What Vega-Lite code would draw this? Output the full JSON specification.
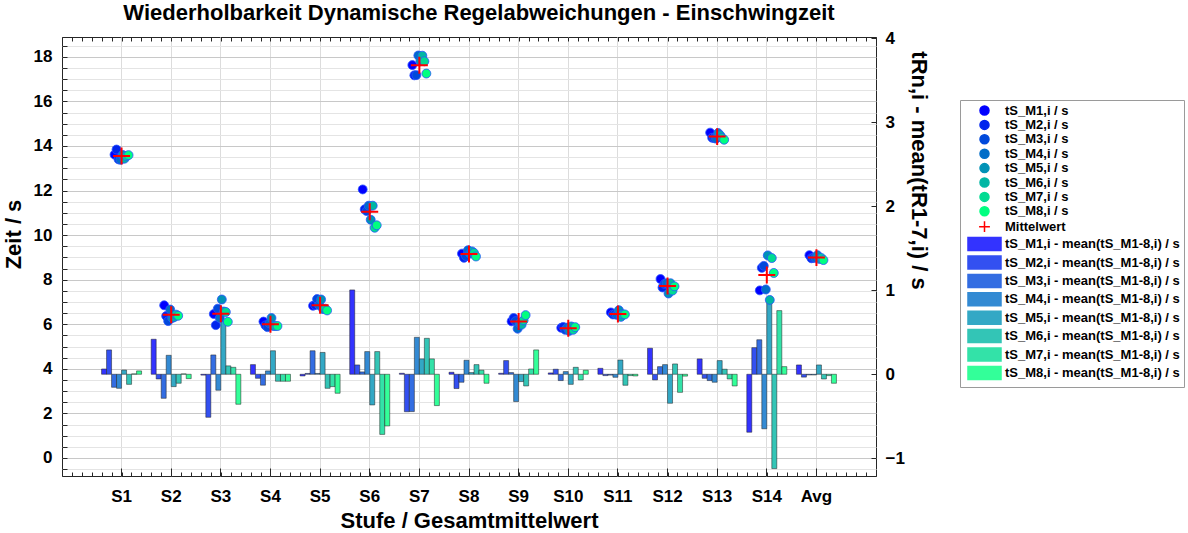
{
"$schema": "https://vega.github.io/schema/vega-lite/v6.json",
"width": 814, "height": 439,
"autosize": {"type": "none"},
"padding": {"left": 62, "top": 37, "right": 312, "bottom": 57},
"background": "white",
"title": {"text": "Wiederholbarkeit Dynamische Regelabweichungen - Einschwingzeit", "fontSize": 22, "fontWeight": "bold", "font": "Liberation Sans", "color": "black", "anchor": "middle", "offset": 4, "dx": 10},
"config": {"font": "Liberation Sans", "view": {"stroke": "#262626", "strokeWidth": 1}},
"datasets": {
"pts": [
{"s":"S1","n":"tS_M1,i / s","v":13.61},{"s":"S1","n":"tS_M2,i / s","v":13.84},{"s":"S1","n":"tS_M3,i / s","v":13.40},{"s":"S1","n":"tS_M4,i / s","v":13.38},{"s":"S1","n":"tS_M5,i / s","v":13.60},{"s":"S1","n":"tS_M6,i / s","v":13.43},{"s":"S1","n":"tS_M7,i / s","v":13.55},{"s":"S1","n":"tS_M8,i / s","v":13.59},
{"s":"S2","n":"tS_M1,i / s","v":6.85},{"s":"S2","n":"tS_M2,i / s","v":6.37},{"s":"S2","n":"tS_M3,i / s","v":6.14},{"s":"S2","n":"tS_M4,i / s","v":6.66},{"s":"S2","n":"tS_M5,i / s","v":6.28},{"s":"S2","n":"tS_M6,i / s","v":6.32},{"s":"S2","n":"tS_M7,i / s","v":6.43},{"s":"S2","n":"tS_M8,i / s","v":6.38},
{"s":"S3","n":"tS_M1,i / s","v":6.46},{"s":"S3","n":"tS_M2,i / s","v":5.96},{"s":"S3","n":"tS_M3,i / s","v":6.70},{"s":"S3","n":"tS_M4,i / s","v":6.28},{"s":"S3","n":"tS_M5,i / s","v":7.11},{"s":"S3","n":"tS_M6,i / s","v":6.57},{"s":"S3","n":"tS_M7,i / s","v":6.55},{"s":"S3","n":"tS_M8,i / s","v":6.11},
{"s":"S4","n":"tS_M1,i / s","v":6.12},{"s":"S4","n":"tS_M2,i / s","v":5.95},{"s":"S4","n":"tS_M3,i / s","v":5.87},{"s":"S4","n":"tS_M4,i / s","v":6.04},{"s":"S4","n":"tS_M5,i / s","v":6.28},{"s":"S4","n":"tS_M6,i / s","v":5.92},{"s":"S4","n":"tS_M7,i / s","v":5.92},{"s":"S4","n":"tS_M8,i / s","v":5.92},
{"s":"S5","n":"tS_M1,i / s","v":6.83},{"s":"S5","n":"tS_M2,i / s","v":6.86},{"s":"S5","n":"tS_M3,i / s","v":7.13},{"s":"S5","n":"tS_M4,i / s","v":6.86},{"s":"S5","n":"tS_M5,i / s","v":7.11},{"s":"S5","n":"tS_M6,i / s","v":6.68},{"s":"S5","n":"tS_M7,i / s","v":6.70},{"s":"S5","n":"tS_M8,i / s","v":6.62},
{"s":"S6","n":"tS_M1,i / s","v":12.05},{"s":"S6","n":"tS_M2,i / s","v":11.16},{"s":"S6","n":"tS_M3,i / s","v":11.08},{"s":"S6","n":"tS_M4,i / s","v":11.32},{"s":"S6","n":"tS_M5,i / s","v":10.69},{"s":"S6","n":"tS_M6,i / s","v":11.32},{"s":"S6","n":"tS_M7,i / s","v":10.33},{"s":"S6","n":"tS_M8,i / s","v":10.44},
{"s":"S7","n":"tS_M1,i / s","v":17.63},{"s":"S7","n":"tS_M2,i / s","v":17.17},{"s":"S7","n":"tS_M3,i / s","v":17.18},{"s":"S7","n":"tS_M4,i / s","v":18.06},{"s":"S7","n":"tS_M5,i / s","v":17.80},{"s":"S7","n":"tS_M6,i / s","v":18.05},{"s":"S7","n":"tS_M7,i / s","v":17.80},{"s":"S7","n":"tS_M8,i / s","v":17.25},
{"s":"S8","n":"tS_M1,i / s","v":9.17},{"s":"S8","n":"tS_M2,i / s","v":8.98},{"s":"S8","n":"tS_M3,i / s","v":9.06},{"s":"S8","n":"tS_M4,i / s","v":9.32},{"s":"S8","n":"tS_M5,i / s","v":9.17},{"s":"S8","n":"tS_M6,i / s","v":9.27},{"s":"S8","n":"tS_M7,i / s","v":9.20},{"s":"S8","n":"tS_M8,i / s","v":9.04},
{"s":"S9","n":"tS_M1,i / s","v":6.13},{"s":"S9","n":"tS_M2,i / s","v":6.28},{"s":"S9","n":"tS_M3,i / s","v":6.14},{"s":"S9","n":"tS_M4,i / s","v":5.80},{"s":"S9","n":"tS_M5,i / s","v":6.03},{"s":"S9","n":"tS_M6,i / s","v":5.98},{"s":"S9","n":"tS_M7,i / s","v":6.18},{"s":"S9","n":"tS_M8,i / s","v":6.41},
{"s":"S10","n":"tS_M1,i / s","v":5.84},{"s":"S10","n":"tS_M2,i / s","v":5.88},{"s":"S10","n":"tS_M3,i / s","v":5.75},{"s":"S10","n":"tS_M4,i / s","v":5.85},{"s":"S10","n":"tS_M5,i / s","v":5.70},{"s":"S10","n":"tS_M6,i / s","v":5.90},{"s":"S10","n":"tS_M7,i / s","v":5.75},{"s":"S10","n":"tS_M8,i / s","v":5.87},
{"s":"S11","n":"tS_M1,i / s","v":6.53},{"s":"S11","n":"tS_M2,i / s","v":6.44},{"s":"S11","n":"tS_M3,i / s","v":6.45},{"s":"S11","n":"tS_M4,i / s","v":6.42},{"s":"S11","n":"tS_M5,i / s","v":6.63},{"s":"S11","n":"tS_M6,i / s","v":6.33},{"s":"S11","n":"tS_M7,i / s","v":6.44},{"s":"S11","n":"tS_M8,i / s","v":6.44},
{"s":"S12","n":"tS_M1,i / s","v":8.03},{"s":"S12","n":"tS_M2,i / s","v":7.65},{"s":"S12","n":"tS_M3,i / s","v":7.81},{"s":"S12","n":"tS_M4,i / s","v":7.84},{"s":"S12","n":"tS_M5,i / s","v":7.38},{"s":"S12","n":"tS_M6,i / s","v":7.84},{"s":"S12","n":"tS_M7,i / s","v":7.51},{"s":"S12","n":"tS_M8,i / s","v":7.70},
{"s":"S13","n":"tS_M1,i / s","v":14.60},{"s":"S13","n":"tS_M2,i / s","v":14.37},{"s":"S13","n":"tS_M3,i / s","v":14.35},{"s":"S13","n":"tS_M4,i / s","v":14.33},{"s":"S13","n":"tS_M5,i / s","v":14.58},{"s":"S13","n":"tS_M6,i / s","v":14.48},{"s":"S13","n":"tS_M7,i / s","v":14.36},{"s":"S13","n":"tS_M8,i / s","v":14.28},
{"s":"S14","n":"tS_M1,i / s","v":7.52},{"s":"S14","n":"tS_M2,i / s","v":8.53},{"s":"S14","n":"tS_M3,i / s","v":8.62},{"s":"S14","n":"tS_M4,i / s","v":7.56},{"s":"S14","n":"tS_M5,i / s","v":9.09},{"s":"S14","n":"tS_M6,i / s","v":7.09},{"s":"S14","n":"tS_M7,i / s","v":8.97},{"s":"S14","n":"tS_M8,i / s","v":8.30},
{"s":"Avg","n":"tS_M1,i / s","v":9.10},{"s":"Avg","n":"tS_M2,i / s","v":8.96},{"s":"Avg","n":"tS_M3,i / s","v":8.98},{"s":"Avg","n":"tS_M4,i / s","v":8.98},{"s":"Avg","n":"tS_M5,i / s","v":9.10},{"s":"Avg","n":"tS_M6,i / s","v":8.93},{"s":"Avg","n":"tS_M7,i / s","v":8.97},{"s":"Avg","n":"tS_M8,i / s","v":8.88}
],
"mean": [
{"s":"S1","n":"Mittelwert","v":13.55},{"s":"S2","n":"Mittelwert","v":6.43},{"s":"S3","n":"Mittelwert","v":6.47},{"s":"S4","n":"Mittelwert","v":6.0},{"s":"S5","n":"Mittelwert","v":6.85},{"s":"S6","n":"Mittelwert","v":11.05},{"s":"S7","n":"Mittelwert","v":17.62},{"s":"S8","n":"Mittelwert","v":9.15},{"s":"S9","n":"Mittelwert","v":6.12},{"s":"S10","n":"Mittelwert","v":5.82},{"s":"S11","n":"Mittelwert","v":6.46},{"s":"S12","n":"Mittelwert","v":7.72},{"s":"S13","n":"Mittelwert","v":14.42},{"s":"S14","n":"Mittelwert","v":8.21},{"s":"Avg","n":"Mittelwert","v":8.99}
],
"bars": [
{"s":"S1","n":"tS_M1,i - mean(tS_M1-8,i) / s","v":0.063},{"s":"S1","n":"tS_M2,i - mean(tS_M1-8,i) / s","v":0.29},{"s":"S1","n":"tS_M3,i - mean(tS_M1-8,i) / s","v":-0.155},{"s":"S1","n":"tS_M4,i - mean(tS_M1-8,i) / s","v":-0.167},{"s":"S1","n":"tS_M5,i - mean(tS_M1-8,i) / s","v":0.05},{"s":"S1","n":"tS_M6,i - mean(tS_M1-8,i) / s","v":-0.12},{"s":"S1","n":"tS_M7,i - mean(tS_M1-8,i) / s","v":0.005},{"s":"S1","n":"tS_M8,i - mean(tS_M1-8,i) / s","v":0.04},
{"s":"S2","n":"tS_M1,i - mean(tS_M1-8,i) / s","v":0.417},{"s":"S2","n":"tS_M2,i - mean(tS_M1-8,i) / s","v":-0.056},{"s":"S2","n":"tS_M3,i - mean(tS_M1-8,i) / s","v":-0.286},{"s":"S2","n":"tS_M4,i - mean(tS_M1-8,i) / s","v":0.226},{"s":"S2","n":"tS_M5,i - mean(tS_M1-8,i) / s","v":-0.147},{"s":"S2","n":"tS_M6,i - mean(tS_M1-8,i) / s","v":-0.107},{"s":"S2","n":"tS_M7,i - mean(tS_M1-8,i) / s","v":0.005},{"s":"S2","n":"tS_M8,i - mean(tS_M1-8,i) / s","v":-0.052},
{"s":"S3","n":"tS_M1,i - mean(tS_M1-8,i) / s","v":-0.01},{"s":"S3","n":"tS_M2,i - mean(tS_M1-8,i) / s","v":-0.512},{"s":"S3","n":"tS_M3,i - mean(tS_M1-8,i) / s","v":0.23},{"s":"S3","n":"tS_M4,i - mean(tS_M1-8,i) / s","v":-0.19},{"s":"S3","n":"tS_M5,i - mean(tS_M1-8,i) / s","v":0.635},{"s":"S3","n":"tS_M6,i - mean(tS_M1-8,i) / s","v":0.1},{"s":"S3","n":"tS_M7,i - mean(tS_M1-8,i) / s","v":0.083},{"s":"S3","n":"tS_M8,i - mean(tS_M1-8,i) / s","v":-0.357},
{"s":"S4","n":"tS_M1,i - mean(tS_M1-8,i) / s","v":0.115},{"s":"S4","n":"tS_M2,i - mean(tS_M1-8,i) / s","v":-0.048},{"s":"S4","n":"tS_M3,i - mean(tS_M1-8,i) / s","v":-0.13},{"s":"S4","n":"tS_M4,i - mean(tS_M1-8,i) / s","v":0.04},{"s":"S4","n":"tS_M5,i - mean(tS_M1-8,i) / s","v":0.28},{"s":"S4","n":"tS_M6,i - mean(tS_M1-8,i) / s","v":-0.083},{"s":"S4","n":"tS_M7,i - mean(tS_M1-8,i) / s","v":-0.083},{"s":"S4","n":"tS_M8,i - mean(tS_M1-8,i) / s","v":-0.083},
{"s":"S5","n":"tS_M1,i - mean(tS_M1-8,i) / s","v":-0.02},{"s":"S5","n":"tS_M2,i - mean(tS_M1-8,i) / s","v":0.01},{"s":"S5","n":"tS_M3,i - mean(tS_M1-8,i) / s","v":0.28},{"s":"S5","n":"tS_M4,i - mean(tS_M1-8,i) / s","v":0.01},{"s":"S5","n":"tS_M5,i - mean(tS_M1-8,i) / s","v":0.26},{"s":"S5","n":"tS_M6,i - mean(tS_M1-8,i) / s","v":-0.167},{"s":"S5","n":"tS_M7,i - mean(tS_M1-8,i) / s","v":-0.147},{"s":"S5","n":"tS_M8,i - mean(tS_M1-8,i) / s","v":-0.226},
{"s":"S6","n":"tS_M1,i - mean(tS_M1-8,i) / s","v":1.004},{"s":"S6","n":"tS_M2,i - mean(tS_M1-8,i) / s","v":0.111},{"s":"S6","n":"tS_M3,i - mean(tS_M1-8,i) / s","v":0.028},{"s":"S6","n":"tS_M4,i - mean(tS_M1-8,i) / s","v":0.27},{"s":"S6","n":"tS_M5,i - mean(tS_M1-8,i) / s","v":-0.365},{"s":"S6","n":"tS_M6,i - mean(tS_M1-8,i) / s","v":0.27},{"s":"S6","n":"tS_M7,i - mean(tS_M1-8,i) / s","v":-0.716},{"s":"S6","n":"tS_M8,i - mean(tS_M1-8,i) / s","v":-0.615},
{"s":"S7","n":"tS_M1,i - mean(tS_M1-8,i) / s","v":0.012},{"s":"S7","n":"tS_M2,i - mean(tS_M1-8,i) / s","v":-0.446},{"s":"S7","n":"tS_M3,i - mean(tS_M1-8,i) / s","v":-0.444},{"s":"S7","n":"tS_M4,i - mean(tS_M1-8,i) / s","v":0.44},{"s":"S7","n":"tS_M5,i - mean(tS_M1-8,i) / s","v":0.183},{"s":"S7","n":"tS_M6,i - mean(tS_M1-8,i) / s","v":0.428},{"s":"S7","n":"tS_M7,i - mean(tS_M1-8,i) / s","v":0.183},{"s":"S7","n":"tS_M8,i - mean(tS_M1-8,i) / s","v":-0.373},
{"s":"S8","n":"tS_M1,i - mean(tS_M1-8,i) / s","v":0.024},{"s":"S8","n":"tS_M2,i - mean(tS_M1-8,i) / s","v":-0.17},{"s":"S8","n":"tS_M3,i - mean(tS_M1-8,i) / s","v":-0.095},{"s":"S8","n":"tS_M4,i - mean(tS_M1-8,i) / s","v":0.167},{"s":"S8","n":"tS_M5,i - mean(tS_M1-8,i) / s","v":0.02},{"s":"S8","n":"tS_M6,i - mean(tS_M1-8,i) / s","v":0.115},{"s":"S8","n":"tS_M7,i - mean(tS_M1-8,i) / s","v":0.048},{"s":"S8","n":"tS_M8,i - mean(tS_M1-8,i) / s","v":-0.107},
{"s":"S9","n":"tS_M1,i - mean(tS_M1-8,i) / s","v":0.012},{"s":"S9","n":"tS_M2,i - mean(tS_M1-8,i) / s","v":0.163},{"s":"S9","n":"tS_M3,i - mean(tS_M1-8,i) / s","v":0.02},{"s":"S9","n":"tS_M4,i - mean(tS_M1-8,i) / s","v":-0.325},{"s":"S9","n":"tS_M5,i - mean(tS_M1-8,i) / s","v":-0.087},{"s":"S9","n":"tS_M6,i - mean(tS_M1-8,i) / s","v":-0.139},{"s":"S9","n":"tS_M7,i - mean(tS_M1-8,i) / s","v":0.063},{"s":"S9","n":"tS_M8,i - mean(tS_M1-8,i) / s","v":0.29},
{"s":"S10","n":"tS_M1,i - mean(tS_M1-8,i) / s","v":0.016},{"s":"S10","n":"tS_M2,i - mean(tS_M1-8,i) / s","v":0.06},{"s":"S10","n":"tS_M3,i - mean(tS_M1-8,i) / s","v":-0.075},{"s":"S10","n":"tS_M4,i - mean(tS_M1-8,i) / s","v":0.032},{"s":"S10","n":"tS_M5,i - mean(tS_M1-8,i) / s","v":-0.12},{"s":"S10","n":"tS_M6,i - mean(tS_M1-8,i) / s","v":0.083},{"s":"S10","n":"tS_M7,i - mean(tS_M1-8,i) / s","v":-0.067},{"s":"S10","n":"tS_M8,i - mean(tS_M1-8,i) / s","v":0.048},
{"s":"S11","n":"tS_M1,i - mean(tS_M1-8,i) / s","v":0.071},{"s":"S11","n":"tS_M2,i - mean(tS_M1-8,i) / s","v":-0.016},{"s":"S11","n":"tS_M3,i - mean(tS_M1-8,i) / s","v":-0.01},{"s":"S11","n":"tS_M4,i - mean(tS_M1-8,i) / s","v":-0.036},{"s":"S11","n":"tS_M5,i - mean(tS_M1-8,i) / s","v":0.17},{"s":"S11","n":"tS_M6,i - mean(tS_M1-8,i) / s","v":-0.131},{"s":"S11","n":"tS_M7,i - mean(tS_M1-8,i) / s","v":-0.016},{"s":"S11","n":"tS_M8,i - mean(tS_M1-8,i) / s","v":-0.02},
{"s":"S12","n":"tS_M1,i - mean(tS_M1-8,i) / s","v":0.31},{"s":"S12","n":"tS_M2,i - mean(tS_M1-8,i) / s","v":-0.067},{"s":"S12","n":"tS_M3,i - mean(tS_M1-8,i) / s","v":0.091},{"s":"S12","n":"tS_M4,i - mean(tS_M1-8,i) / s","v":0.115},{"s":"S12","n":"tS_M5,i - mean(tS_M1-8,i) / s","v":-0.345},{"s":"S12","n":"tS_M6,i - mean(tS_M1-8,i) / s","v":0.123},{"s":"S12","n":"tS_M7,i - mean(tS_M1-8,i) / s","v":-0.215},{"s":"S12","n":"tS_M8,i - mean(tS_M1-8,i) / s","v":-0.022},
{"s":"S13","n":"tS_M1,i - mean(tS_M1-8,i) / s","v":0.183},{"s":"S13","n":"tS_M2,i - mean(tS_M1-8,i) / s","v":-0.048},{"s":"S13","n":"tS_M3,i - mean(tS_M1-8,i) / s","v":-0.075},{"s":"S13","n":"tS_M4,i - mean(tS_M1-8,i) / s","v":-0.095},{"s":"S13","n":"tS_M5,i - mean(tS_M1-8,i) / s","v":0.163},{"s":"S13","n":"tS_M6,i - mean(tS_M1-8,i) / s","v":0.06},{"s":"S13","n":"tS_M7,i - mean(tS_M1-8,i) / s","v":-0.056},{"s":"S13","n":"tS_M8,i - mean(tS_M1-8,i) / s","v":-0.139},
{"s":"S14","n":"tS_M1,i - mean(tS_M1-8,i) / s","v":-0.69},{"s":"S14","n":"tS_M2,i - mean(tS_M1-8,i) / s","v":0.317},{"s":"S14","n":"tS_M3,i - mean(tS_M1-8,i) / s","v":0.411},{"s":"S14","n":"tS_M4,i - mean(tS_M1-8,i) / s","v":-0.649},{"s":"S14","n":"tS_M5,i - mean(tS_M1-8,i) / s","v":0.883},{"s":"S14","n":"tS_M6,i - mean(tS_M1-8,i) / s","v":-1.123},{"s":"S14","n":"tS_M7,i - mean(tS_M1-8,i) / s","v":0.758},{"s":"S14","n":"tS_M8,i - mean(tS_M1-8,i) / s","v":0.091},
{"s":"Avg","n":"tS_M1,i - mean(tS_M1-8,i) / s","v":0.111},{"s":"Avg","n":"tS_M2,i - mean(tS_M1-8,i) / s","v":-0.034},{"s":"Avg","n":"tS_M3,i - mean(tS_M1-8,i) / s","v":-0.008},{"s":"Avg","n":"tS_M4,i - mean(tS_M1-8,i) / s","v":-0.008},{"s":"Avg","n":"tS_M5,i - mean(tS_M1-8,i) / s","v":0.111},{"s":"Avg","n":"tS_M6,i - mean(tS_M1-8,i) / s","v":-0.056},{"s":"Avg","n":"tS_M7,i - mean(tS_M1-8,i) / s","v":-0.016},{"s":"Avg","n":"tS_M8,i - mean(tS_M1-8,i) / s","v":-0.107}
]
},
"resolve": {"scale": {"x": "independent", "y": "independent", "xOffset": "independent"}, "axis": {"x": "independent", "y": "independent"}},
"layer": [
{
"data": {"name": "bars"},
"mark": {"type": "bar", "stroke": "#1e1e1e", "strokeWidth": 0.5, "opacity": 1},
"encoding": {
"x": {"field": "s", "type": "nominal", "sort": null, "scale": {"type": "band", "domain": ["S1","S2","S3","S4","S5","S6","S7","S8","S9","S10","S11","S12","S13","S14","Avg"], "paddingInner": 0, "paddingOuter": 0.7},
 "axis": {"orient": "bottom", "title": "Stufe / Gesamtmittelwert", "bandPosition": 0.5, "grid": true, "gridColor": "#dcdcdc", "gridWidth": 1, "ticks": true, "tickSize": -8, "tickColor": "#262626", "domain": false, "labelAngle": 0, "labelFontSize": 17, "labelFontWeight": "bold", "labelColor": "black", "labelPadding": 20, "titleFontSize": 22, "titleFontWeight": "bold", "titleColor": "black", "titlePadding": 6}},
"xOffset": {"field": "n", "type": "nominal", "scale": {"domain": ["tS_M1,i - mean(tS_M1-8,i) / s","tS_M2,i - mean(tS_M1-8,i) / s","tS_M3,i - mean(tS_M1-8,i) / s","tS_M4,i - mean(tS_M1-8,i) / s","tS_M5,i - mean(tS_M1-8,i) / s","tS_M6,i - mean(tS_M1-8,i) / s","tS_M7,i - mean(tS_M1-8,i) / s","tS_M8,i - mean(tS_M1-8,i) / s"], "paddingInner": 0, "paddingOuter": 0.96}},
"y": {"field": "v", "type": "quantitative", "scale": {"domain": [-1.211, 4.015], "nice": false, "zero": false},
 "axis": {"orient": "right", "title": "tRn,i - mean(tR1-7,i) / s", "values": [-1,0,1,2,3,4], "grid": false, "tickSize": -5, "tickColor": "#262626", "domain": false, "labelFontSize": 17, "labelFontWeight": "bold", "labelColor": "black", "labelPadding": 14, "titleFontSize": 22, "titleFontWeight": "bold", "titleColor": "black", "titleAngle": 90, "titlePadding": 2, "titleY": 133}},
"color": {"field": "n", "type": "nominal",
 "scale": {"domain": ["tS_M1,i / s","tS_M2,i / s","tS_M3,i / s","tS_M4,i / s","tS_M5,i / s","tS_M6,i / s","tS_M7,i / s","tS_M8,i / s","Mittelwert","tS_M1,i - mean(tS_M1-8,i) / s","tS_M2,i - mean(tS_M1-8,i) / s","tS_M3,i - mean(tS_M1-8,i) / s","tS_M4,i - mean(tS_M1-8,i) / s","tS_M5,i - mean(tS_M1-8,i) / s","tS_M6,i - mean(tS_M1-8,i) / s","tS_M7,i - mean(tS_M1-8,i) / s","tS_M8,i - mean(tS_M1-8,i) / s"],
 "range": ["#0000ff","#0024ed","#0049db","#006dc8","#0092b6","#00b6a4","#00db92","#00ff80","#ff0000","#3333ff","#3350f1","#336de2","#338ad3","#33a8c5","#33c5b6","#33e2a8","#33ff99"]}}
}
},
{
"mark": {"type": "rule", "color": "#262626", "strokeWidth": 1.2},
"encoding": {"y": {"datum": 0, "type": "quantitative", "scale": {"domain": [-1.211, 4.015], "nice": false, "zero": false}, "axis": null}}
},
{
"data": {"name": "pts"},
"mark": {"type": "point", "filled": true, "size": 80, "opacity": 1, "stroke": "#2a52ff", "strokeWidth": 0.8},
"encoding": {
"x": {"field": "s", "type": "nominal", "sort": null, "scale": {"type": "band", "domain": ["S1","S2","S3","S4","S5","S6","S7","S8","S9","S10","S11","S12","S13","S14","Avg"], "paddingInner": 0, "paddingOuter": 0.7}, "axis": null},
"xOffset": {"field": "n", "type": "nominal", "scale": {"type": "point", "domain": ["tS_M1,i / s","tS_M2,i / s","tS_M3,i / s","tS_M4,i / s","tS_M5,i / s","tS_M6,i / s","tS_M7,i / s","tS_M8,i / s"], "range": [17.8, 31.8], "padding": 0}},
"y": {"field": "v", "type": "quantitative", "scale": {"domain": [-0.81, 18.89], "nice": false, "zero": false},
 "axis": {"orient": "left", "title": "Zeit / s", "values": [-0.5,0,0.5,1,1.5,2,2.5,3,3.5,4,4.5,5,5.5,6,6.5,7,7.5,8,8.5,9,9.5,10,10.5,11,11.5,12,12.5,13,13.5,14,14.5,15,15.5,16,16.5,17,17.5,18,18.5], "labelExpr": "datum.value % 2 === 0 ? format(datum.value, '.0f') : ''", "labelOverlap": false, "grid": true, "gridColor": {"condition": {"test": "datum.value % 2 === 0", "value": "#c8c8c8"}, "value": "#e4e4e4"}, "tickSize": -5, "tickColor": "#262626", "domain": false, "labelFontSize": 17, "labelFontWeight": "bold", "labelColor": "black", "labelPadding": 15, "titleFontSize": 22, "titleFontWeight": "bold", "titleColor": "black", "titlePadding": 8, "titleY": 197}},
"color": {"field": "n", "type": "nominal",
 "scale": {"domain": ["tS_M1,i / s","tS_M2,i / s","tS_M3,i / s","tS_M4,i / s","tS_M5,i / s","tS_M6,i / s","tS_M7,i / s","tS_M8,i / s","Mittelwert","tS_M1,i - mean(tS_M1-8,i) / s","tS_M2,i - mean(tS_M1-8,i) / s","tS_M3,i - mean(tS_M1-8,i) / s","tS_M4,i - mean(tS_M1-8,i) / s","tS_M5,i - mean(tS_M1-8,i) / s","tS_M6,i - mean(tS_M1-8,i) / s","tS_M7,i - mean(tS_M1-8,i) / s","tS_M8,i - mean(tS_M1-8,i) / s"],
 "range": ["#0000ff","#0024ed","#0049db","#006dc8","#0092b6","#00b6a4","#00db92","#00ff80","#ff0000","#3333ff","#3350f1","#336de2","#338ad3","#33a8c5","#33c5b6","#33e2a8","#33ff99"]},
 "legend": {"orient": "none", "legendX": 898, "legendY": 63, "title": null, "padding": 4, "symbolOffset": 14, "labelOffset": 14, "rowPadding": -0.6, "symbolSize": 81, "labelFont": "Liberation Sans", "labelFontSize": 13, "labelFontWeight": "bold", "labelColor": "black", "labelLimit": 400, "strokeColor": "#9a9a9a", "fillColor": "white",
  "encode": {"symbols": {"update": {"fill": {"scale": "color", "field": "value"}, "stroke": [{"test": "datum.index >= 9", "value": "#555555"}, {"scale": "color", "field": "value"}], "strokeWidth": [{"test": "datum.index >= 9", "value": 1}, {"test": "datum.index == 8", "value": 1.8}, {"value": 0.5}], "opacity": {"value": 1}, "fillOpacity": {"value": 1}, "strokeOpacity": {"value": 1}}}}}},
"shape": {"field": "n", "type": "nominal",
 "scale": {"domain": ["tS_M1,i / s","tS_M2,i / s","tS_M3,i / s","tS_M4,i / s","tS_M5,i / s","tS_M6,i / s","tS_M7,i / s","tS_M8,i / s","Mittelwert","tS_M1,i - mean(tS_M1-8,i) / s","tS_M2,i - mean(tS_M1-8,i) / s","tS_M3,i - mean(tS_M1-8,i) / s","tS_M4,i - mean(tS_M1-8,i) / s","tS_M5,i - mean(tS_M1-8,i) / s","tS_M6,i - mean(tS_M1-8,i) / s","tS_M7,i - mean(tS_M1-8,i) / s","tS_M8,i - mean(tS_M1-8,i) / s"],
 "range": ["circle","circle","circle","circle","circle","circle","circle","circle","M-1.2,0H1.2M0,-1.2V1.2","M-3.67,-1.44H3.67V1.44H-3.67Z","M-3.67,-1.44H3.67V1.44H-3.67Z","M-3.67,-1.44H3.67V1.44H-3.67Z","M-3.67,-1.44H3.67V1.44H-3.67Z","M-3.67,-1.44H3.67V1.44H-3.67Z","M-3.67,-1.44H3.67V1.44H-3.67Z","M-3.67,-1.44H3.67V1.44H-3.67Z","M-3.67,-1.44H3.67V1.44H-3.67Z"]},
 "legend": {"orient": "none", "legendX": 898, "legendY": 63, "title": null, "padding": 4, "symbolOffset": 14, "labelOffset": 14, "rowPadding": -0.6, "symbolSize": 81, "labelFont": "Liberation Sans", "labelFontSize": 13, "labelFontWeight": "bold", "labelColor": "black", "labelLimit": 400, "strokeColor": "#9a9a9a", "fillColor": "white"}}
}
},
{
"data": {"name": "mean"},
"mark": {"type": "point", "filled": false, "size": 200, "strokeWidth": 2, "opacity": 1},
"encoding": {
"x": {"field": "s", "type": "nominal", "sort": null, "scale": {"type": "band", "domain": ["S1","S2","S3","S4","S5","S6","S7","S8","S9","S10","S11","S12","S13","S14","Avg"], "paddingInner": 0, "paddingOuter": 0.7}, "axis": null},
"y": {"field": "v", "type": "quantitative", "scale": {"domain": [-0.81, 18.89], "nice": false, "zero": false}, "axis": null},
"color": {"field": "n", "type": "nominal"},
"shape": {"field": "n", "type": "nominal"}
}
},
{
"mark": {"type": "rule", "opacity": 0},
"encoding": {"x": {"datum": 0, "type": "quantitative", "scale": {"domain": [-0.2, 16.2], "nice": false, "zero": false},
 "axis": {"orient": "bottom", "values": [-0.2,0,0.2,0.4,0.6,0.8,1,1.2,1.4,1.6,1.8,2,2.2,2.4,2.6,2.8,3,3.2,3.4,3.6,3.8,4,4.2,4.4,4.6,4.8,5,5.2,5.4,5.6,5.8,6,6.2,6.4,6.6,6.8,7,7.2,7.4,7.6,7.8,8,8.2,8.4,8.6,8.8,9,9.2,9.4,9.6,9.8,10,10.2,10.4,10.6,10.8,11,11.2,11.4,11.6,11.8,12,12.2,12.4,12.6,12.8,13,13.2,13.4,13.6,13.8,14,14.2,14.4,14.6,14.8,15,15.2,15.4,15.6,15.8,16,16.2], "labels": false, "grid": false, "domain": false, "tickSize": -4, "tickColor": "#262626", "title": null}}}
},
{
"mark": {"type": "rule", "opacity": 0},
"encoding": {"x": {"datum": 0, "type": "quantitative", "scale": {"domain": [-0.2, 16.2], "nice": false, "zero": false},
 "axis": {"orient": "top", "values": [-0.2,0,0.2,0.4,0.6,0.8,1,1.2,1.4,1.6,1.8,2,2.2,2.4,2.6,2.8,3,3.2,3.4,3.6,3.8,4,4.2,4.4,4.6,4.8,5,5.2,5.4,5.6,5.8,6,6.2,6.4,6.6,6.8,7,7.2,7.4,7.6,7.8,8,8.2,8.4,8.6,8.8,9,9.2,9.4,9.6,9.8,10,10.2,10.4,10.6,10.8,11,11.2,11.4,11.6,11.8,12,12.2,12.4,12.6,12.8,13,13.2,13.4,13.6,13.8,14,14.2,14.4,14.6,14.8,15,15.2,15.4,15.6,15.8,16,16.2], "labels": false, "grid": false, "domain": false, "tickSize": -4, "tickColor": "#262626", "title": null}}}
}
]
}
